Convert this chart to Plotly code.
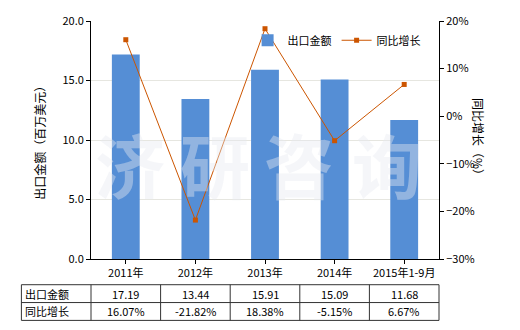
import plotly.graph_objects as go

categories = ["2011年", "2012年", "2013年", "2014年", "2015年1-9月"]
export_values = [17.19, 13.44, 15.91, 15.09, 11.68]
growth_values = [16.07, -21.82, 18.38, -5.15, 6.67]
export_labels = ["17.19", "13.44", "15.91", "15.09", "11.68"]
growth_labels = ["16.07%", "-21.82%", "18.38%", "-5.15%", "6.67%"]
row_names = ["出口金额", "同比增长"]
watermark_chars = ["济", "研", "咨", "询"]

FONT = "Noto Sans CJK SC, Microsoft YaHei, sans-serif"
BAR_COLOR = "#558ED5"
LINE_COLOR = "#CC5500"

fig = go.Figure()
fig.add_trace(go.Bar(x=categories, y=export_values, name="出口金额",
                     marker=dict(color=BAR_COLOR, line=dict(width=0)), width=0.4, yaxis="y"))
fig.add_trace(go.Scatter(x=categories, y=growth_values, name="同比增长", mode="lines+markers",
                         line=dict(color=LINE_COLOR, width=1),
                         marker=dict(symbol="square", size=5, color=LINE_COLOR), yaxis="y2"))

n = len(categories)
# table geometry in paper coords derived from category index
y_top, y_mid, y_bot = -0.108, -0.183, -0.258
shapes = []
for y in (y_top, y_mid, y_bot):
    shapes.append(dict(type="line", xref="paper", yref="paper", x0=-1 / n, x1=1, y0=y, y1=y,
                       line=dict(color="#333333", width=1)))
for i in range(-1, n + 1):
    shapes.append(dict(type="line", xref="paper", yref="paper", x0=i / n, x1=i / n, y0=y_top, y1=y_bot,
                       line=dict(color="#333333", width=1)))

annotations = []
# watermark (drawn first)
wm_x = [0.112, 0.355, 0.598, 0.85]
for ch, xp in zip(watermark_chars, wm_x):
    annotations.append(dict(xref="paper", yref="paper", x=xp, y=0.40, text="<b>" + ch + "</b>",
                            showarrow=False, xanchor="center", yanchor="middle",
                            font=dict(family=FONT, size=70, color="rgba(232,234,240,0.42)")))

for r, (name, labels) in enumerate(zip(row_names, [export_labels, growth_labels])):
    yc = (y_top + y_mid) / 2 if r == 0 else (y_mid + y_bot) / 2
    annotations.append(dict(xref="paper", yref="paper", x=-1 / n + 0.005, y=yc, text=name,
                            showarrow=False, xanchor="left", yanchor="middle",
                            font=dict(family=FONT, size=11, color="#000")))
    for i, t in enumerate(labels):
        annotations.append(dict(xref="paper", yref="paper", x=(i + 0.5) / n, y=yc, text=t,
                                showarrow=False, xanchor="center", yanchor="middle",
                                font=dict(family=FONT, size=11, color="#000")))

# axis titles
annotations.append(dict(xref="paper", yref="paper", x=-0.18, y=0.5, text="出口金额（百万美元）",
                        textangle=-90, showarrow=False, font=dict(family=FONT, size=12, color="#000")))
annotations.append(dict(xref="paper", yref="paper", x=1.145, y=0.5, text="同比增长（%）",
                        textangle=90, showarrow=False, font=dict(family=FONT, size=12, color="#000")))

fig.update_layout(
    width=520, height=330,
    margin=dict(l=91, r=81, t=19, b=71),
    paper_bgcolor="white", plot_bgcolor="white",
    font=dict(family=FONT, size=11, color="#000"),
    bargap=0.6,
    showlegend=True,
    legend=dict(orientation="h", x=0.45, y=0.98, xanchor="left", yanchor="top",
                bgcolor="rgba(0,0,0,0)", font=dict(family=FONT, size=11), itemwidth=30,
                traceorder="normal"),
    xaxis=dict(showline=True, linecolor="#000", linewidth=1, ticks="outside", ticklen=4,
               tickcolor="#000", showgrid=False, tickfont=dict(size=11)),
    yaxis=dict(range=[0, 20], dtick=5, tickformat=".1f", showline=True, linecolor="#000",
               linewidth=1, ticks="outside", ticklen=4, tickcolor="#000",
               showgrid=True, gridcolor="#E6E6E0", gridwidth=1, zeroline=False, tickfont=dict(size=11)),
    yaxis2=dict(range=[-30, 20], dtick=10, ticksuffix="%", overlaying="y", side="right",
                showline=True, linecolor="#000", linewidth=1, ticks="outside", ticklen=4,
                tickcolor="#000", showgrid=False, zeroline=False, tickfont=dict(size=11)),
    shapes=shapes,
    annotations=annotations,
)

fig.write_html("out.html")
